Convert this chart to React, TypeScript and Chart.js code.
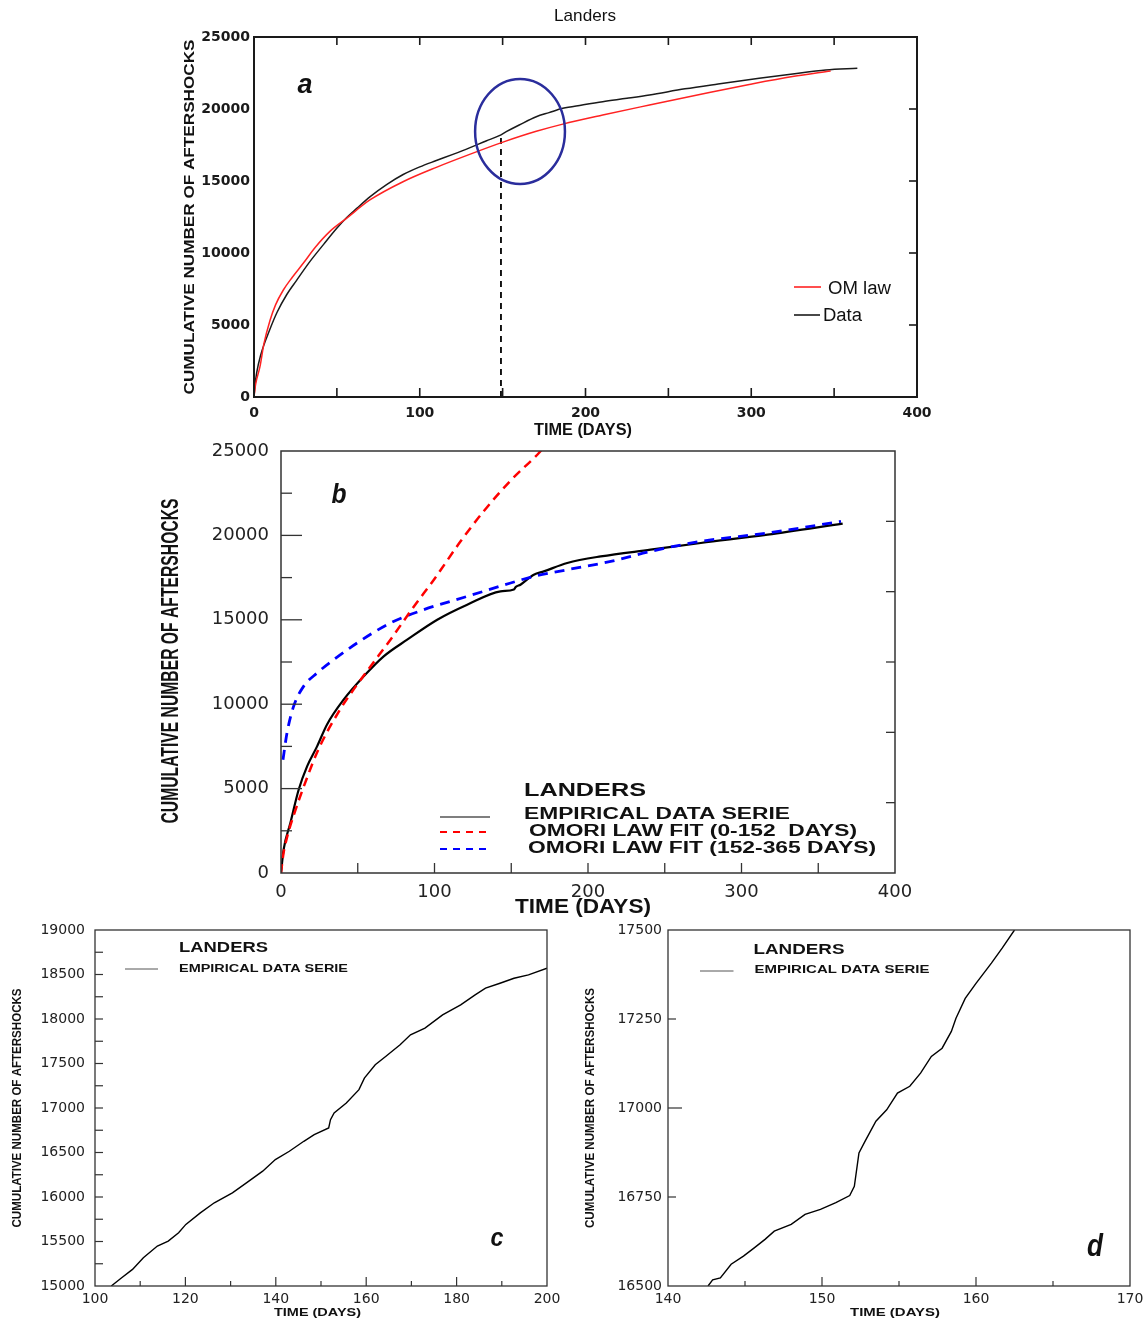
import React, { useEffect, useRef } from "react";
import { Chart, registerables } from "chart.js";

Chart.register(...registerables);

// ---------------- Panel a (Landers, OM law vs data) ----------------
const A_DATA_X = [0, 0.5, 1.6, 4, 9.6, 14, 19.7, 25.7, 33.7, 42, 49.8, 55.8, 62, 69.9, 80, 90, 100, 110, 120, 130, 140, 148, 152.2, 160, 170.3, 178, 186.3, 198, 210.4, 225, 238.6, 260, 280, 304.8, 325, 344.9, 364];
const A_DATA_Y = [0, 700, 1667, 2900, 4700, 5900, 7100, 8100, 9400, 10600, 11700, 12450, 13100, 13900, 14750, 15450, 15980, 16420, 16850, 17300, 17780, 18150, 18424, 18889, 19465, 19750, 20049, 20278, 20507, 20741, 20972, 21400, 21736, 22130, 22431, 22708, 22824];
const A_OM_X = [0, 1, 3.6, 6, 9.6, 13, 17.7, 23, 29.7, 37, 45.8, 55.8, 69.9, 89.9, 110, 130.1, 150.2, 170.3, 186.3, 210.4, 238.6, 274.7, 298.8, 324.9, 347.9];
const A_OM_Y = [0, 900, 2104, 3700, 5300, 6400, 7430, 8300, 9285, 10400, 11500, 12407, 13681, 14950, 15950, 16850, 17700, 18450, 18950, 19583, 20278, 21150, 21700, 22250, 22640];
const A_MARK_X = [149, 149];
const A_MARK_Y = [0, 18200];
const A_CIRCLE = { cx: 160.5, cy: 18440, rx: 27.1, ry: 3650 };
const A_X_RANGE = [0, 400, 100];
const A_Y_RANGE = [0, 25000, 5000];
const A_TOP_TICKS = [50, 100, 150, 200, 250, 300, 350];
const A_BOTTOM_TICKS = [50, 100, 150, 200, 250, 300, 350];
const A_RIGHT_TICKS = [5000, 10000, 15000, 20000];

// ---------------- Panel b (Omori fits) ----------------
const B_DATA_X = [0, 1.7, 6.1, 11.5, 17, 23.5, 30, 40.8, 53.9, 66.9, 82.2, 101.8, 121.3, 143, 151.7, 153, 156, 164.7, 171.2, 186.5, 208.3, 240.8, 273.5, 317, 365.9];
const B_DATA_Y = [0, 1380, 2962, 4935, 6317, 7500, 8800, 10267, 11649, 12833, 13821, 15006, 15895, 16685, 16800, 16950, 17080, 17672, 17869, 18365, 18756, 19153, 19550, 20042, 20693];
const B_FIT1_X = [0, 1.5, 3.9, 8.2, 16.8, 24.5, 38.6, 49.5, 58.3, 71.3, 86.6, 99.6, 117, 132.2, 149.6, 168, 172];
const B_FIT1_Y = [0, 1100, 2100, 3400, 5600, 7350, 9700, 11150, 12239, 13821, 15794, 17375, 19650, 21450, 23250, 24882, 25300];
const B_FIT2_X = [1.3, 3.9, 8.2, 14.7, 23.5, 34.3, 49.6, 71.3, 93, 121.3, 149.6, 164.7, 186.5, 214.8, 240.8, 273.5, 317, 364.8];
const B_FIT2_Y = [6712, 8293, 9870, 11056, 11846, 12636, 13627, 14811, 15598, 16386, 17179, 17571, 17968, 18460, 19053, 19645, 20142, 20830];
const B_X_RANGE = [0, 400, 100];
const B_Y_RANGE = [0, 25000, 5000];
const B_LEFT_MAJOR = [5000, 10000, 15000, 20000];
const B_LEFT_MINOR = [2500, 7500, 12500, 17500, 22500];
const B_BOTTOM_TICKS = [50, 100, 150, 200, 250, 300, 350];
const B_RIGHT_TICKS = [4167, 8333, 12500, 16667, 20833];

// ---------------- Panel c (100-200 days) ----------------
const C_X = [103.6, 105.9, 108.3, 110.7, 113.8, 116.2, 118.5, 120.1, 123.3, 126.4, 130.4, 133.5, 137.1, 139.9, 143, 146.2, 148.5, 151.7, 152.1, 152.9, 155.6, 158.4, 159.6, 162, 164.3, 167.5, 169.8, 173, 176.9, 180.9, 184.1, 186.4, 189.6, 192.7, 195.9, 200];
const C_Y = [15000, 15093, 15187, 15318, 15449, 15505, 15598, 15692, 15822, 15935, 16047, 16159, 16290, 16421, 16514, 16626, 16701, 16776, 16869, 16944, 17056, 17206, 17336, 17486, 17579, 17710, 17822, 17897, 18047, 18159, 18271, 18346, 18402, 18458, 18495, 18570];
const C_X_RANGE = [100, 200, 20];
const C_Y_RANGE = [15000, 19000, 500];
const C_BOTTOM_MAJOR = [120, 140, 160, 180];
const C_BOTTOM_MINOR = [110, 130, 150, 170, 190];
const C_LEFT_TICKS = [15250, 15500, 15750, 16000, 16250, 16500, 16750, 17000, 17250, 17500, 17750, 18000, 18250, 18500, 18750];

// ---------------- Panel d (140-170 days) ----------------
const D_X = [142.6, 142.9, 143.4, 144.1, 144.9, 145.6, 146.3, 146.9, 148, 148.9, 149.9, 150.9, 151.8, 152.1, 152.4, 152.8, 153.5, 154.2, 154.9, 155.7, 156.4, 157.1, 157.8, 158.4, 158.7, 159.3, 160, 161, 161.7, 162.5];
const D_Y = [16500, 16517, 16523, 16561, 16584, 16607, 16631, 16654, 16673, 16701, 16715, 16734, 16754, 16780, 16874, 16907, 16963, 16995, 17042, 17061, 17098, 17145, 17168, 17215, 17252, 17308, 17350, 17407, 17449, 17500];
const D_X_RANGE = [140, 170, 10];
const D_Y_RANGE = [16500, 17500, 250];
const D_BOTTOM_MAJOR = [150, 160];
const D_BOTTOM_MINOR = [145, 155, 165];
const D_LEFT_MAJOR = [17000];
const D_LEFT_MINOR = [16750, 17250];

// ---------------- Texts ----------------
const Y_TITLE = "CUMULATIVE NUMBER OF AFTERSHOCKS";
const X_TITLE = "TIME (DAYS)";
const LEG_LANDERS = "LANDERS";
const LEG_DATA = "EMPIRICAL DATA SERIE";
const LEG_FIT1 = "OMORI LAW FIT (0-152  DAYS)";
const LEG_FIT2 = "OMORI LAW FIT (152-365 DAYS)";

const RED_A = "#ff2222";
const BLACK_A = "#1a1a1a";
const RED_B = "#ff0000";
const BLUE_B = "#0000ff";
const BLACK = "#000000";
const CIRCLE_BLUE = "#2a2d9c";

const LS = '"Liberation Sans", Arial, sans-serif';

const pts = (xs: number[], ys: number[]) => xs.map((x, i) => ({ x, y: ys[i] }));

function drawText(ctx: any, t: any, ox: number, oy: number) {
  ctx.save();
  ctx.translate(t.x - ox, t.y - oy);
  if (t.rotate) ctx.rotate(-Math.PI / 2);
  ctx.font = t.font;
  ctx.fillStyle = t.color || "#111";
  ctx.textBaseline = "middle";
  const w = ctx.measureText(t.text).width;
  ctx.scale(t.width / w, 1);
  ctx.textAlign = t.align === "left" ? "left" : "center";
  ctx.fillText(t.text, 0, 0);
  ctx.restore();
}

function Panel(p: any) {
  const ref = useRef<HTMLCanvasElement>(null);
  useEffect(() => {
    const canvas = ref.current!;
    const ox = p.left;
    const oy = p.top;
    const deco = {
      id: "deco",
      afterDatasetsDraw(chart: any) {
        const ctx = chart.ctx;
        const ca = chart.chartArea;
        const xs = chart.scales.x;
        const ys = chart.scales.y;
        ctx.save();
        if (p.ellipse) {
          const e = p.ellipse;
          const cx = xs.getPixelForValue(e.cx);
          const cy = ys.getPixelForValue(e.cy);
          const rx = xs.getPixelForValue(e.cx + e.rx) - cx;
          const ry = cy - ys.getPixelForValue(e.cy + e.ry);
          ctx.beginPath();
          ctx.strokeStyle = CIRCLE_BLUE;
          ctx.lineWidth = 2.5;
          ctx.ellipse(cx, cy, rx, ry, 0, 0, Math.PI * 2);
          ctx.stroke();
        }
        ctx.strokeStyle = p.frameColor;
        ctx.lineWidth = p.frameWidth;
        ctx.strokeRect(ca.left, ca.top, ca.right - ca.left, ca.bottom - ca.top);
        ctx.lineWidth = p.tickWidth;
        for (const t of p.ticks) {
          for (const v of t.values) {
            ctx.beginPath();
            if (t.side === "bottom") {
              const px = xs.getPixelForValue(v);
              ctx.moveTo(px, ca.bottom);
              ctx.lineTo(px, ca.bottom - t.len);
            } else if (t.side === "top") {
              const px = xs.getPixelForValue(v);
              ctx.moveTo(px, ca.top);
              ctx.lineTo(px, ca.top + t.len);
            } else if (t.side === "left") {
              const py = ys.getPixelForValue(v);
              ctx.moveTo(ca.left, py);
              ctx.lineTo(ca.left + t.len, py);
            } else {
              const py = ys.getPixelForValue(v);
              ctx.moveTo(ca.right, py);
              ctx.lineTo(ca.right - t.len, py);
            }
            ctx.stroke();
          }
        }
        for (const l of p.legendLines) {
          ctx.beginPath();
          ctx.setLineDash(l.dash || []);
          ctx.strokeStyle = l.color;
          ctx.lineWidth = l.width;
          ctx.moveTo(l.x1 - ox, l.y - oy);
          ctx.lineTo(l.x2 - ox, l.y - oy);
          ctx.stroke();
        }
        ctx.setLineDash([]);
        for (const t of p.texts) drawText(ctx, t, ox, oy);
        ctx.restore();
      },
    };
    const a = p.area;
    const tickCommon = (pad: number) => ({
      font: p.tickFont,
      color: p.tickColor,
      padding: pad,
      maxRotation: 0,
      autoSkip: false,
      callback: (v: any) => String(v),
    });
    const chart = new Chart(canvas, {
      type: "line",
      data: { datasets: p.datasets },
      options: {
        responsive: false,
        animation: false,
        events: [],
        layout: { padding: { left: 0, top: a.t - p.top, right: p.left + p.width - a.r, bottom: 0 } },
        plugins: { legend: { display: false }, tooltip: { enabled: false }, title: { display: false } },
        scales: {
          x: {
            type: "linear",
            position: "bottom",
            min: p.xRange[0],
            max: p.xRange[1],
            grid: { display: false, drawTicks: false },
            border: { display: false },
            ticks: { ...tickCommon(p.xPad), stepSize: p.xRange[2] },
            afterFit: (s: any) => {
              s.height = p.top + p.height - a.b;
            },
          },
          y: {
            type: "linear",
            position: "left",
            min: p.yRange[0],
            max: p.yRange[1],
            grid: { display: false, drawTicks: false },
            border: { display: false },
            ticks: { ...tickCommon(p.yPad), stepSize: p.yRange[2] },
            afterFit: (s: any) => {
              s.width = a.l - p.left;
            },
          },
        },
      } as any,
      plugins: [deco],
    });
    return () => chart.destroy();
  }, []);
  return (
    <canvas
      ref={ref}
      width={p.width}
      height={p.height}
      style={{ position: "absolute", left: p.left, top: p.top, width: p.width, height: p.height }}
    />
  );
}

const lineDs = (data: any[], color: string, width: number, extra: any = {}) => ({
  data,
  borderColor: color,
  backgroundColor: color,
  borderWidth: width,
  pointRadius: 0,
  fill: false,
  ...extra,
});

export default function App() {
  const panelA = {
    left: 160, top: 0, width: 850, height: 445,
    area: { l: 254, t: 37, r: 917, b: 397 },
    xRange: A_X_RANGE, yRange: A_Y_RANGE,
    tickFont: { family: "DejaVu Sans", size: 14, weight: "bold" },
    tickColor: "#1a1a1a", xPad: 8, yPad: 4,
    frameColor: "#1a1a1a", frameWidth: 2, tickWidth: 1.6,
    ticks: [
      { side: "top", values: A_TOP_TICKS, len: 8 },
      { side: "bottom", values: A_BOTTOM_TICKS, len: 9 },
      { side: "right", values: A_RIGHT_TICKS, len: 8 },
    ],
    ellipse: A_CIRCLE,
    datasets: [
      lineDs(pts(A_OM_X, A_OM_Y), RED_A, 1.5, { cubicInterpolationMode: "monotone" }),
      lineDs(pts(A_DATA_X, A_DATA_Y), BLACK_A, 1.5, { cubicInterpolationMode: "monotone" }),
      lineDs(pts(A_MARK_X, A_MARK_Y), BLACK, 1.8, { borderDash: [6, 5] }),
    ],
    legendLines: [
      { x1: 794, x2: 821, y: 287, color: RED_A, width: 1.6 },
      { x1: 794, x2: 820, y: 315, color: BLACK_A, width: 1.6 },
    ],
    texts: [
      { text: "Landers", x: 585, y: 16, font: `17px ${LS}`, width: 62 },
      { text: Y_TITLE, x: 190, y: 217, font: `bold 14px ${LS}`, width: 355, rotate: true },
      { text: X_TITLE, x: 583, y: 431, font: `bold 16px ${LS}`, width: 98 },
      { text: "OM law", x: 828, y: 289, font: `18px ${LS}`, width: 63, align: "left" },
      { text: "Data", x: 823, y: 316, font: `18px ${LS}`, width: 39, align: "left" },
      { text: "a", x: 305, y: 85, font: `bold italic 28px ${LS}`, width: 15 },
    ],
  };

  const panelB = {
    left: 140, top: 427, width: 790, height: 491,
    area: { l: 281, t: 451, r: 895, b: 873 },
    xRange: B_X_RANGE, yRange: B_Y_RANGE,
    tickFont: { family: "DejaVu Sans", size: 18 },
    tickColor: "#222", xPad: 9, yPad: 12,
    frameColor: "#333", frameWidth: 1.5, tickWidth: 1.3,
    ticks: [
      { side: "left", values: B_LEFT_MAJOR, len: 21 },
      { side: "left", values: B_LEFT_MINOR, len: 11 },
      { side: "bottom", values: B_BOTTOM_TICKS, len: 10 },
      { side: "right", values: B_RIGHT_TICKS, len: 9 },
    ],
    datasets: [
      lineDs(pts(B_FIT1_X, B_FIT1_Y), RED_B, 2.5, { borderDash: [9, 6], cubicInterpolationMode: "monotone" }),
      lineDs(pts(B_FIT2_X, B_FIT2_Y), BLUE_B, 2.8, { borderDash: [10, 7], cubicInterpolationMode: "monotone" }),
      lineDs(pts(B_DATA_X, B_DATA_Y), BLACK, 2.2, { cubicInterpolationMode: "monotone" }),
    ],
    legendLines: [
      { x1: 440, x2: 490, y: 817, color: BLACK, width: 1.2 },
      { x1: 440, x2: 490, y: 832, color: RED_B, width: 2, dash: [7, 6] },
      { x1: 440, x2: 490, y: 849, color: BLUE_B, width: 2, dash: [7, 6] },
    ],
    texts: [
      { text: "b", x: 339, y: 495, font: `bold italic 28px ${LS}`, width: 15 },
      { text: Y_TITLE, x: 172, y: 661, font: `bold 23px ${LS}`, width: 325, rotate: true },
      { text: X_TITLE, x: 583, y: 907.5, font: `bold 20px ${LS}`, width: 136 },
      { text: LEG_LANDERS, x: 524, y: 791.5, font: `bold 18px ${LS}`, width: 122, align: "left" },
      { text: LEG_DATA, x: 524, y: 814.5, font: `bold 16px ${LS}`, width: 266, align: "left" },
      { text: LEG_FIT1, x: 529, y: 831.5, font: `bold 16px ${LS}`, width: 328, align: "left" },
      { text: LEG_FIT2, x: 528, y: 848.5, font: `bold 16px ${LS}`, width: 348, align: "left" },
    ],
  };

  const panelC = {
    left: 0, top: 908, width: 570, height: 411,
    area: { l: 95, t: 930, r: 547, b: 1286 },
    xRange: C_X_RANGE, yRange: C_Y_RANGE,
    tickFont: { family: "DejaVu Sans", size: 14 },
    tickColor: "#222", xPad: 5, yPad: 10,
    frameColor: "#333", frameWidth: 1.3, tickWidth: 1.2,
    ticks: [
      { side: "bottom", values: C_BOTTOM_MAJOR, len: 9 },
      { side: "bottom", values: C_BOTTOM_MINOR, len: 5 },
      { side: "left", values: C_LEFT_TICKS, len: 8 },
    ],
    datasets: [lineDs(pts(C_X, C_Y), BLACK, 1.4)],
    legendLines: [{ x1: 125, x2: 158, y: 969, color: "#555", width: 1 }],
    texts: [
      { text: Y_TITLE, x: 17.5, y: 1108, font: `bold 13px ${LS}`, width: 239, rotate: true },
      { text: X_TITLE, x: 317.5, y: 1312.5, font: `bold 11px ${LS}`, width: 87 },
      { text: LEG_LANDERS, x: 179, y: 948.5, font: `bold 14px ${LS}`, width: 89, align: "left" },
      { text: LEG_DATA, x: 179, y: 969, font: `bold 11.5px ${LS}`, width: 169, align: "left" },
      { text: "c", x: 497, y: 1239, font: `bold italic 26px ${LS}`, width: 13 },
    ],
  };

  const panelD = {
    left: 575, top: 908, width: 573, height: 411,
    area: { l: 668, t: 930, r: 1130, b: 1286 },
    xRange: D_X_RANGE, yRange: D_Y_RANGE,
    tickFont: { family: "DejaVu Sans", size: 14 },
    tickColor: "#222", xPad: 4.5, yPad: 6,
    frameColor: "#333", frameWidth: 1.3, tickWidth: 1.2,
    ticks: [
      { side: "bottom", values: D_BOTTOM_MAJOR, len: 9 },
      { side: "bottom", values: D_BOTTOM_MINOR, len: 5 },
      { side: "left", values: D_LEFT_MAJOR, len: 14 },
      { side: "left", values: D_LEFT_MINOR, len: 8 },
    ],
    datasets: [lineDs(pts(D_X, D_Y), BLACK, 1.4)],
    legendLines: [{ x1: 700, x2: 733.5, y: 971, color: "#555", width: 1 }],
    texts: [
      { text: Y_TITLE, x: 590, y: 1108, font: `bold 13px ${LS}`, width: 240, rotate: true },
      { text: X_TITLE, x: 895, y: 1312.5, font: `bold 11px ${LS}`, width: 90 },
      { text: LEG_LANDERS, x: 753.5, y: 950.5, font: `bold 14px ${LS}`, width: 91, align: "left" },
      { text: LEG_DATA, x: 754.5, y: 970, font: `bold 11.5px ${LS}`, width: 175, align: "left" },
      { text: "d", x: 1095, y: 1247, font: `bold italic 31px ${LS}`, width: 16 },
    ],
  };

  return (
    <div style={{ position: "absolute", left: 0, top: 0, width: 1148, height: 1319, background: "#fff" }}>
      <Panel {...panelA} />
      <Panel {...panelB} />
      <Panel {...panelC} />
      <Panel {...panelD} />
    </div>
  );
}
